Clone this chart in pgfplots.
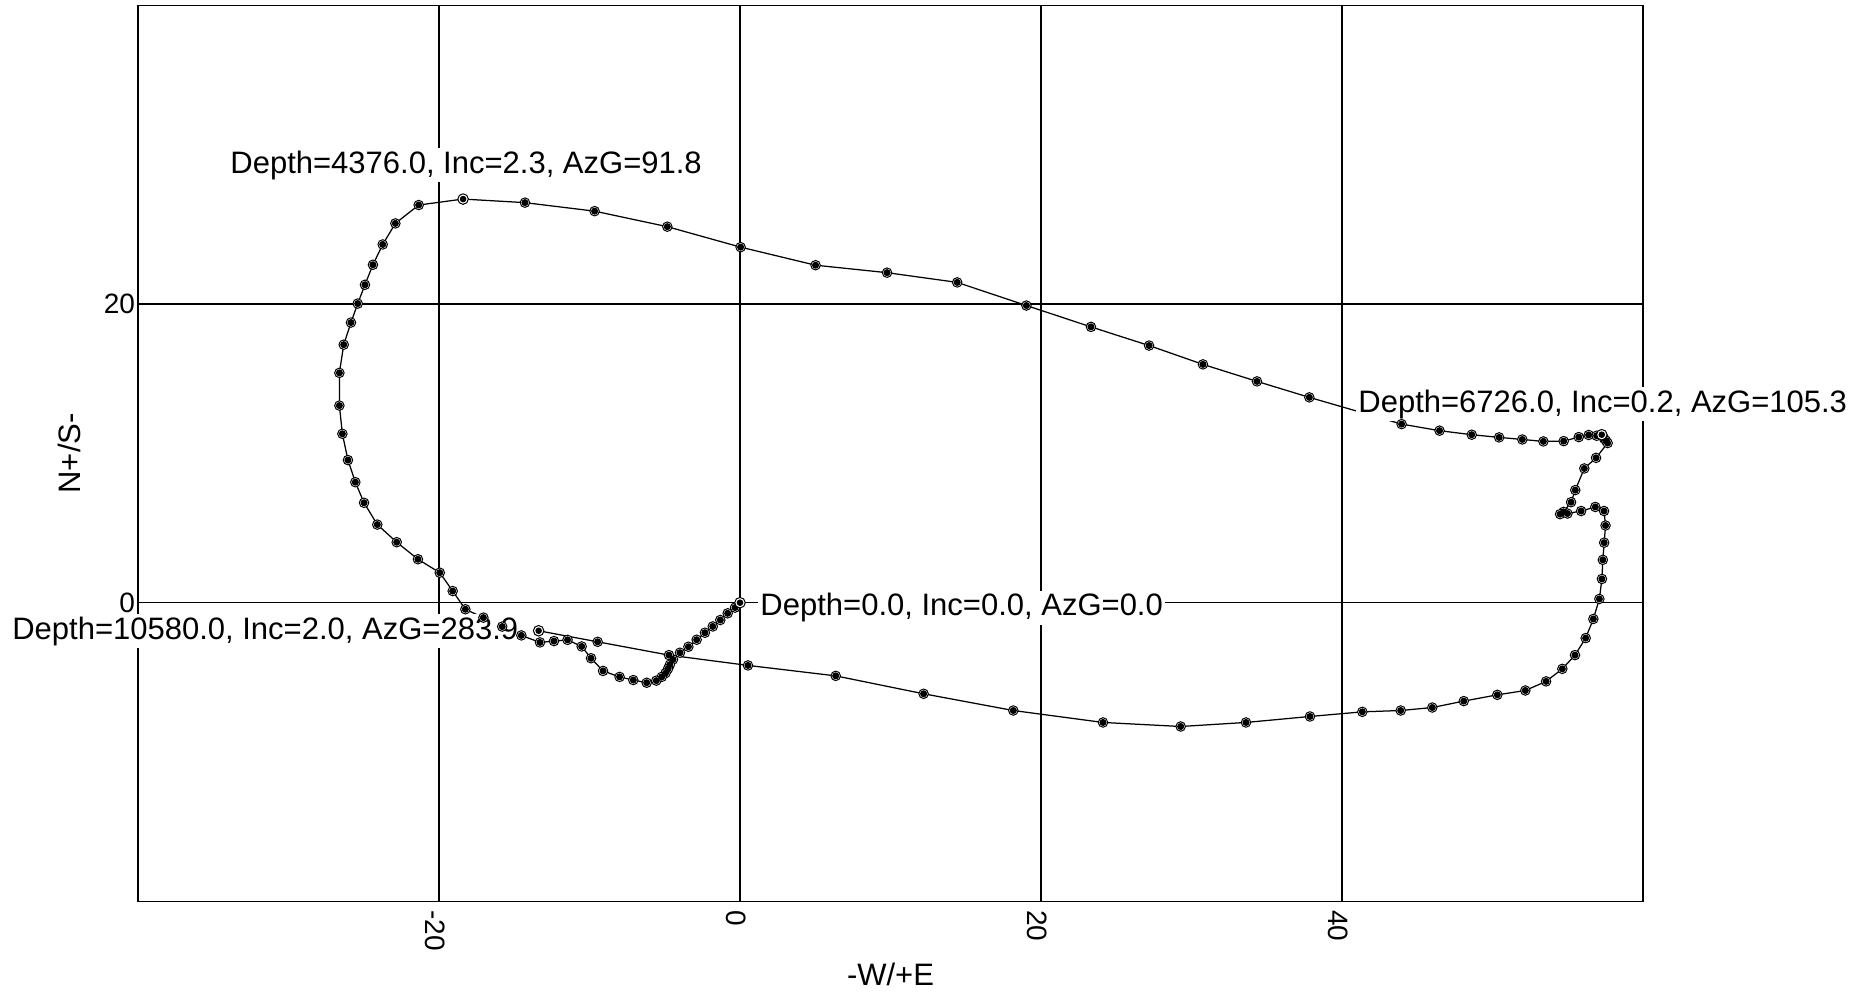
\documentclass[border=0pt]{standalone}
\usepackage{fontspec}
\setmainfont{Liberation Sans}
\usepackage{pgfplots}
\usepackage{pgfplotstable}
\pgfplotsset{compat=1.18}

% well path, -W/+E vs N+/S-, in survey order
\pgfplotstableread{
x y
0.00 0.00
-0.33 -0.33
-0.82 -0.71
-1.31 -1.16
-1.81 -1.59
-2.33 -2.01
-2.88 -2.48
-3.43 -2.95
-3.99 -3.35
-4.45 -3.80
-4.66 -4.15
-4.78 -4.42
-4.95 -4.72
-5.20 -4.97
-5.56 -5.22
-6.20 -5.36
-7.09 -5.18
-8.00 -4.97
-9.10 -4.57
-9.90 -3.72
-10.52 -2.93
-11.46 -2.49
-12.36 -2.57
-13.29 -2.66
-14.53 -2.19
-15.80 -1.60
-17.05 -1.00
-18.25 -0.44
-19.09 0.78
-19.95 2.01
-21.40 2.91
-22.81 4.05
-24.10 5.23
-24.98 6.69
-25.56 8.07
-26.05 9.55
-26.42 11.31
-26.62 13.20
-26.62 15.39
-26.33 17.28
-25.85 18.76
-25.40 20.03
-24.92 21.29
-24.39 22.63
-23.74 23.99
-22.90 25.40
-21.35 26.63
-18.40 27.03
-14.29 26.79
-9.66 26.22
-4.83 25.18
0.04 23.81
5.02 22.60
9.77 22.10
14.43 21.45
19.03 19.90
23.32 18.47
27.18 17.22
30.76 15.96
34.35 14.82
37.83 13.75
43.96 11.96
46.48 11.52
48.62 11.25
50.44 11.07
51.98 10.93
53.38 10.80
54.73 10.82
55.73 11.09
56.39 11.23
56.92 11.18
57.26 11.25
57.41 11.00
57.54 10.85
57.65 10.69
56.88 9.70
56.10 8.99
55.50 7.54
55.22 6.73
54.72 6.08
54.49 5.93
54.98 5.97
55.89 6.14
56.83 6.41
57.41 6.14
57.51 5.17
57.42 4.02
57.33 2.87
57.27 1.59
57.10 0.25
56.70 -1.09
56.19 -2.37
55.48 -3.51
54.64 -4.43
53.56 -5.27
52.18 -5.88
50.32 -6.17
48.09 -6.59
46.00 -7.02
43.90 -7.22
41.35 -7.31
37.87 -7.62
33.62 -8.02
29.28 -8.29
24.12 -8.02
18.16 -7.22
12.20 -6.10
6.36 -4.90
0.53 -4.20
-4.72 -3.51
-9.46 -2.62
-13.38 -1.88
}\welltrack

% labelled stations: depth 0, 4376, 6726, 10580
\pgfplotstableread{
x y
0.00 0.00
-18.40 27.03
57.26 11.25
-13.38 -1.88
}\keypoints

\begin{document}
\begin{tikzpicture}
\begin{axis}[
  scale only axis,
  width=602pt,
  height=358.4pt,
  xmin=-40, xmax=60,
  ymin=-20, ymax=40,
  xtick={-20,0,20,40},
  ytick={0,20},
  grid=major,
  grid style={black, line width=0.5pt},
  axis line style={black, line width=0.6pt},
  tick style={draw=none},
  /pgf/number format/assume math mode=true,
  ticklabel style={font=\fontsize{11.2}{13}\selectfont},
  xticklabel style={rotate=-90, anchor=west, yshift=-1.5pt},
  yticklabel style={inner sep=1pt},
  xlabel={-W/+E},
  ylabel={N+/S-},
  every axis x label/.style={at={(axis description cs:0.5,-0.0815)}, anchor=center,
    font=\fontsize{12.4}{14}\selectfont},
  every axis y label/.style={at={(axis description cs:-0.0458,0.5)}, anchor=center,
    rotate=90, font=\fontsize{12.4}{14}\selectfont},
  clip=false,
]
\path (axis cs:-49.17,-26.31) rectangle (axis cs:74.95,40.36);

\addplot[black, line width=0.5pt, mark=none] table {\welltrack};
\addplot[only marks, mark=*, mark size=1.9pt, mark options={fill=white, draw=none}] table {\welltrack};
\addplot[only marks, mark=*, mark size=1.2pt, mark options={fill=black, draw=none}] table {\welltrack};
\addplot[only marks, mark=*, mark size=2.1pt, mark options={fill=white, draw=black, line width=0.4pt}] table {\keypoints};
\addplot[only marks, mark=*, mark size=1.1pt, mark options={fill=black, draw=none}] table {\keypoints};

\begin{scope}[every node/.style={fill=white, inner sep=1pt, anchor=base west,
    font=\fontsize{12.4}{14}\selectfont}]
\node at (axis cs:-34.06,28.77) {Depth=4376.0, Inc=2.3, AzG=91.8};
\node at (axis cs:40.89,12.76) {Depth=6726.0, Inc=0.2, AzG=105.3};
\node at (axis cs:1.16,-0.87) {Depth=0.0, Inc=0.0, AzG=0.0};
\node at (axis cs:-48.55,-2.45) {Depth=10580.0, Inc=2.0, AzG=283.9};
\end{scope}
\end{axis}
\end{tikzpicture}
\end{document}
